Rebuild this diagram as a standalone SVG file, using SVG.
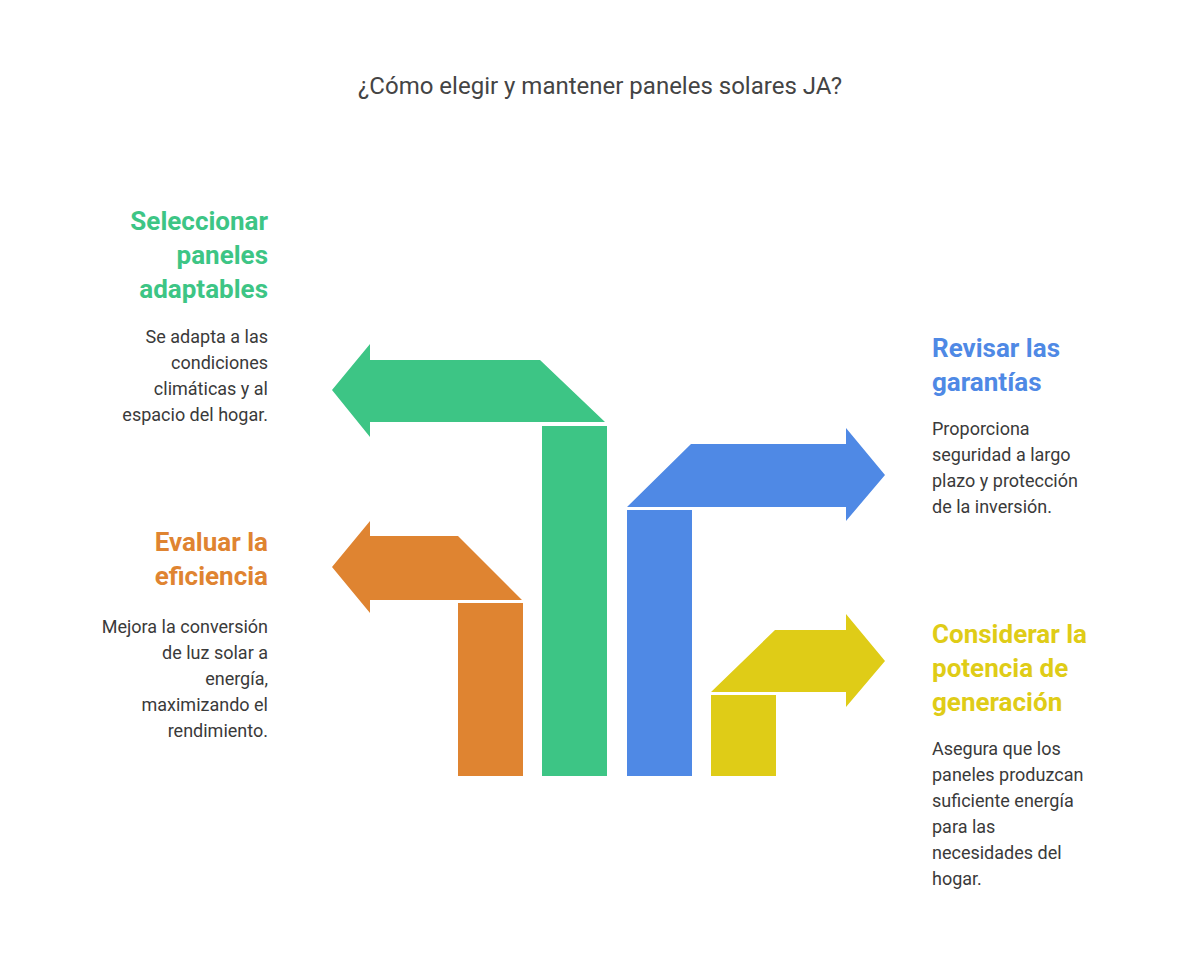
<svg xmlns="http://www.w3.org/2000/svg" width="1200" height="957" viewBox="0 0 1200 957">
<style>
.t{font-family:Roboto,"Liberation Sans",sans-serif}
.h{font-size:26px;font-weight:bold}
.b{font-size:18px;fill:#3a3a3a}
.r{text-anchor:end}
</style>
<rect width="1200" height="957" fill="#fff"/>
<text class="t" x="600" y="94" text-anchor="middle" font-size="24" fill="#444">¿Cómo elegir y mantener paneles solares JA?</text>
<g id="connectors"></g>
<g id="green">
<polygon fill="#3dc585" points="605,422 540,360 370,360 370,344 332,390 370,437 370,422"/>
<rect fill="#3dc585" x="542" y="426" width="65" height="350"/>
<text class="t h r" fill="#3dc585"><tspan x="268" y="230">Seleccionar</tspan><tspan x="268" y="264">paneles</tspan><tspan x="268" y="298">adaptables</tspan></text>
<text class="t b r"><tspan x="268" y="343">Se adapta a las</tspan><tspan x="268" y="369">condiciones</tspan><tspan x="268" y="395">climáticas y al</tspan><tspan x="268" y="421">espacio del hogar.</tspan></text>
</g>
<g id="orange">
<polygon fill="#df8431" points="522,600 458,536 370,536 370,521 332,567 370,613 370,600"/>
<rect fill="#df8431" x="458" y="603" width="65" height="173"/>
<text class="t h r" fill="#df8431"><tspan x="268" y="551">Evaluar la</tspan><tspan x="268" y="585">eficiencia</tspan></text>
<text class="t b r"><tspan x="268" y="633">Mejora la conversión</tspan><tspan x="268" y="659">de luz solar a</tspan><tspan x="268" y="685">energía,</tspan><tspan x="268" y="711">maximizando el</tspan><tspan x="268" y="737">rendimiento.</tspan></text>
</g>
<g id="blue">
<polygon fill="#4f89e5" points="627,507 691,444 846,444 846,428 885,475 846,521 846,507"/>
<rect fill="#4f89e5" x="627" y="510" width="65" height="266"/>
<text class="t h" fill="#4f89e5"><tspan x="932" y="357">Revisar las</tspan><tspan x="932" y="391">garantías</tspan></text>
<text class="t b"><tspan x="932" y="435">Proporciona</tspan><tspan x="932" y="461">seguridad a largo</tspan><tspan x="932" y="487">plazo y protección</tspan><tspan x="932" y="513">de la inversión.</tspan></text>
</g>
<g id="yellow">
<polygon fill="#dfcc17" points="711,692 775,630 846,630 846,614 885,661 846,707 846,692"/>
<rect fill="#dfcc17" x="711" y="695" width="65" height="81"/>
<text class="t h" fill="#dfcc17"><tspan x="932" y="643">Considerar la</tspan><tspan x="932" y="677">potencia de</tspan><tspan x="932" y="711">generación</tspan></text>
<text class="t b"><tspan x="932" y="755">Asegura que los</tspan><tspan x="932" y="781">paneles produzcan</tspan><tspan x="932" y="807">suficiente energía</tspan><tspan x="932" y="833">para las</tspan><tspan x="932" y="859">necesidades del</tspan><tspan x="932" y="885">hogar.</tspan></text>
</g>
</svg>
